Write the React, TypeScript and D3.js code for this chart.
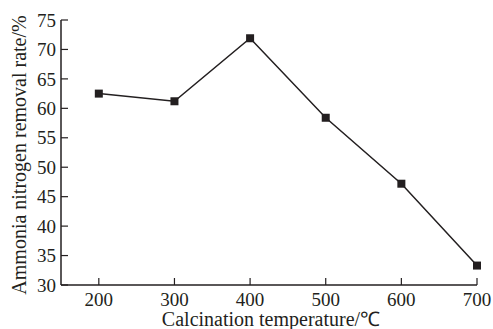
import { useEffect, useRef } from "react";
import * as d3 from "d3";

const temps = [200, 300, 400, 500, 600, 700];
const removal = [62.5, 61.2, 71.9, 58.4, 47.2, 33.3];
const xTicks = [200, 300, 400, 500, 600, 700];
const yTicks = [30, 35, 40, 45, 50, 55, 60, 65, 70, 75];

const W = 493;
const H = 329;

export default function App() {
  const ref = useRef<SVGSVGElement | null>(null);

  useEffect(() => {
    if (!ref.current) return;
    const svg = d3.select(ref.current);
    svg.selectAll("*").remove();

    const x = d3.scaleLinear().domain([150, 700]).range([61, 477]);
    const y = d3.scaleLinear().domain([30, 75]).range([285, 20]);
    const font = "'Liberation Serif', 'Times New Roman', serif";
    const ink = "#231f20";

    // axes lines
    svg.append("line")
      .attr("x1", x(150)).attr("x2", x(150))
      .attr("y1", y(75)).attr("y2", y(30))
      .attr("stroke", ink).attr("stroke-width", 1.5);
    svg.append("line")
      .attr("x1", x(150)).attr("x2", x(700))
      .attr("y1", y(30)).attr("y2", y(30))
      .attr("stroke", ink).attr("stroke-width", 1.5);

    // y ticks, pointing inward
    yTicks.forEach((t) => {
      svg.append("line")
        .attr("x1", x(150)).attr("x2", x(150) + 7)
        .attr("y1", y(t)).attr("y2", y(t))
        .attr("stroke", ink).attr("stroke-width", 1.2);
      svg.append("text")
        .attr("x", x(150) - 5).attr("y", y(t))
        .attr("dy", "0.35em")
        .attr("text-anchor", "end")
        .attr("font-family", font).attr("font-size", 19)
        .attr("fill", ink)
        .text(t);
    });

    xTicks.forEach((t) => {
      svg.append("line")
        .attr("x1", x(t)).attr("x2", x(t))
        .attr("y1", y(30)).attr("y2", y(30) - 7)
        .attr("stroke", ink).attr("stroke-width", 1.2);
      svg.append("text")
        .attr("x", x(t)).attr("y", y(30) + 21)
        .attr("text-anchor", "middle")
        .attr("font-family", font).attr("font-size", 19)
        .attr("fill", ink)
        .text(t);
    });

    svg.append("text")
      .attr("x", 271).attr("y", 326)
      .attr("text-anchor", "middle")
      .attr("font-family", font).attr("font-size", 20)
      .attr("fill", ink)
      .text("Calcination temperature/℃");

    svg.append("text")
      .attr("transform", `translate(26,155) rotate(-90)`)
      .attr("text-anchor", "middle")
      .attr("font-family", font).attr("font-size", 20)
      .attr("fill", ink)
      .text("Ammonia nitrogen removal rate/%");

    const pts = temps.map((t, i) => [t, removal[i]] as [number, number]);
    const line = d3.line<[number, number]>()
      .x((d) => x(d[0]))
      .y((d) => y(d[1]));

    svg.append("path")
      .datum(pts)
      .attr("fill", "none")
      .attr("stroke", ink)
      .attr("stroke-width", 1.5)
      .attr("d", line);

    svg.selectAll("rect.pt")
      .data(pts)
      .enter()
      .append("rect")
      .attr("class", "pt")
      .attr("x", (d) => x(d[0]) - 4)
      .attr("y", (d) => y(d[1]) - 4)
      .attr("width", 8)
      .attr("height", 8)
      .attr("fill", ink);
  }, []);

  return (
    <svg
      ref={ref}
      width={W}
      height={H}
      style={{ position: "absolute", left: 0, top: 0, background: "#fff" }}
    />
  );
}
